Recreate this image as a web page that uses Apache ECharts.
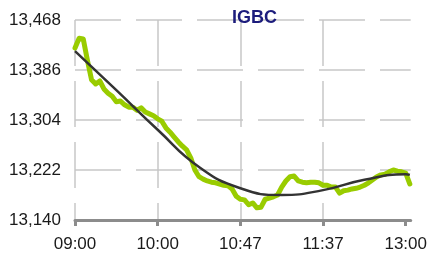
<!DOCTYPE html>
<html>
<head>
<meta charset="utf-8">
<script src="https://cdn.jsdelivr.net/npm/echarts@6/dist/echarts.min.js"></script>
<style>
  html, body { margin: 0; padding: 0; background: #fff; }
  #chart { width: 430px; height: 258px; }
</style>
</head>
<body>
<div id="chart"></div>
<script>
// IGBC intraday, one point per step on the x axis
const yBase = 13140
const yStep = 82
const priceValues = [
  13422, 13438, 13437, 13402, 13370, 13363, 13368, 13355, 13348, 13343,
  13334, 13335, 13329, 13325, 13325, 13320, 13324, 13317, 13314, 13311,
  13306, 13302, 13291, 13284, 13276, 13268, 13261, 13255, 13242, 13222,
  13211, 13207, 13204, 13202, 13201, 13199, 13197, 13196, 13191, 13179,
  13174, 13173, 13165, 13168, 13160, 13161, 13174, 13176, 13178, 13181,
  13194, 13204, 13211, 13212, 13204, 13202, 13201, 13202, 13202, 13201,
  13197, 13197, 13194, 13194, 13184, 13188, 13189, 13191, 13192, 13194,
  13197, 13201, 13206, 13211, 13214, 13215, 13219, 13222, 13220, 13219,
  13217, 13199
]
// fitted trend line
const trendSteps = [0, 10, 20, 30, 40, 50, 60, 70, 80, 81]
const trendValues = [13417, 13353, 13288, 13227, 13192, 13181, 13189, 13206, 13215, 13214]

const timeSteps = [0, 20, 40, 60, 80]
const timeLabels = ['09:00', '10:00', '10:47', '11:37', '13:00']

const labelFont = { fontFamily: 'Liberation Sans', fontSize: 17, color: '#1a1a1a' }
const gridLine = { color: '#c8c8c8', width: 1.5, type: [46, 15] }

const chart = echarts.init(document.getElementById('chart'))

chart.setOption({
  animation: false,
  title: {
    text: 'IGBC',
    left: 227,
    top: 4,
    textStyle: { fontFamily: 'Liberation Sans', fontSize: 18, fontWeight: 'bold', color: '#1c1c7c' }
  },
  grid: { left: 75, right: 18, top: 20, bottom: 38 },
  xAxis: {
    type: 'value',
    min: 0,
    max: 81.2,
    interval: 10,
    axisLine: { show: true, lineStyle: { color: '#8c8c8c', width: 3 } },
    axisTick: { show: true, customValues: timeSteps, length: 6, lineStyle: { color: '#8c8c8c', width: 3 } },
    axisLabel: {
      ...labelFont,
      margin: 16,
      customValues: timeSteps,
      formatter: (v) => timeLabels[timeSteps.indexOf(Math.round(v))] || ''
    },
    splitLine: { show: true, showMaxLine: false, lineStyle: gridLine }
  },
  yAxis: {
    type: 'value',
    min: 0,
    max: yStep * 4,
    interval: yStep,
    axisLine: { show: false },
    axisTick: { show: false },
    axisLabel: {
      ...labelFont,
      margin: 14,
      formatter: (v) => (v + yBase).toLocaleString('en-US')
    },
    splitLine: { show: true, lineStyle: gridLine }
  },
  series: [
    {
      type: 'line',
      data: priceValues.map((v, i) => [i, v - yBase]),
      symbol: 'none',
      lineStyle: { color: '#99cc00', width: 5, join: 'round', cap: 'round' },
      z: 2
    },
    {
      type: 'line',
      data: trendSteps.map((s, i) => [s, trendValues[i] - yBase]),
      symbol: 'none',
      smooth: true,
      lineStyle: { color: '#333333', width: 2.5 },
      z: 3
    }
  ]
})
</script>
</body>
</html>
